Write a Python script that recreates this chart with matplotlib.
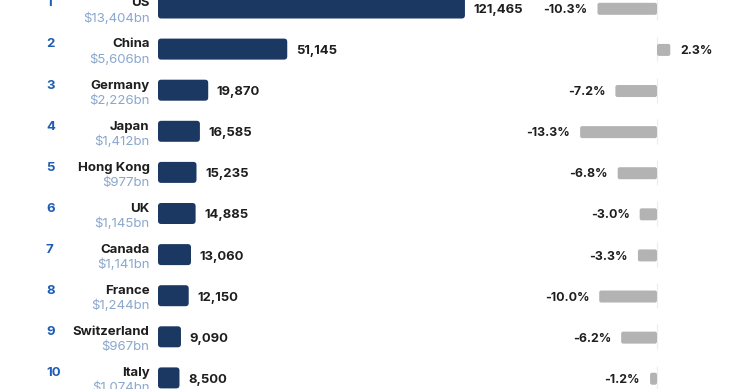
import matplotlib.pyplot as plt
from matplotlib.patches import FancyBboxPatch
from matplotlib.transforms import blended_transform_factory

plt.rcParams['font.family'] = ['Inter', 'DejaVu Sans']

ranks = ['1', '2', '3', '4', '5', '6', '7', '8', '9', '10']
countries = ['US', 'China', 'Germany', 'Japan', 'Hong Kong', 'UK', 'Canada',
             'France', 'Switzerland', 'Italy']
gdp_labels = ['$13,404bn', '$5,606bn', '$2,226bn', '$1,412bn', '$977bn',
              '$1,145bn', '$1,141bn', '$1,244bn', '$967bn', '$1,074bn']
values = [121465, 51145, 19870, 16585, 15235, 14885, 13060, 12150, 9090, 8500]
changes = [-10.3, 2.3, -7.2, -13.3, -6.8, -3.0, -3.3, -10.0, -6.2, -1.2]

NAVY = '#1b3862'
GREY = '#b3b3b3'
RANK = '#1f5cb4'
GDP = '#8aa7cd'
TXT = '#1e1e1e'

W, H = 740, 389
fig = plt.figure(figsize=(W / 100, H / 100), dpi=100)

# row geometry in pixels
row_gap = 41.1
first_row = 8.0
bar_h = 21 / row_gap
grey_h = 12 / row_gap

ylim = ((H - first_row) / row_gap, -first_row / row_gap)

# main bars: zero at x=158px, 0.002527 px per unit
px_main = 0.002527
ax = fig.add_axes([0, 0, 1, 1])
ax.set_xlim(-158 / px_main, (W - 158) / px_main)
ax.set_ylim(*ylim)
ax.axis('off')

# change bars: zero at x=657px, 5.78 px per percent
px_chg = 5.78
ax2 = fig.add_axes([0, 0, 1, 1])
ax2.set_xlim(-657 / px_chg, (W - 657) / px_chg)
ax2.set_ylim(*ylim)
ax2.axis('off')

r_px = 3.2
for i, v in enumerate(values):
    rx = r_px / px_main
    ry = r_px / row_gap
    p = FancyBboxPatch((0, i - bar_h / 2), v, bar_h,
                       boxstyle='round,pad=0,rounding_size=%f' % rx,
                       mutation_aspect=ry / rx, fc=NAVY, ec='none')
    ax.add_patch(p)
    ax.annotate(f'{v:,}', (v, i + 0.12), xytext=(6.2, 0), textcoords='offset points',
                ha='left', va='baseline', fontsize=9.4, fontweight='bold', color=TXT)

for i, c in enumerate(changes):
    ax2.vlines(0, i - 0.3, i + 0.3, color='#ececec', lw=0.8, zorder=0)
    rx = 2.0 / px_chg
    ry = 2.0 / row_gap
    x0 = min(c, 0)
    p = FancyBboxPatch((x0, i - grey_h / 2 + 0.02), abs(c), grey_h,
                       boxstyle='round,pad=0,rounding_size=%f' % rx,
                       mutation_aspect=ry / rx, fc=GREY, ec='none')
    ax2.add_patch(p)
    lab = f'{c:.1f}%'
    if c < 0:
        ax2.annotate(lab, (c, i + 0.12), xytext=(-7.2, 0), textcoords='offset points',
                     ha='right', va='baseline', fontsize=8.9, fontweight='bold', color=TXT)
    else:
        ax2.annotate(lab, (c, i + 0.12), xytext=(7.2, 0), textcoords='offset points',
                     ha='left', va='baseline', fontsize=8.9, fontweight='bold', color=TXT)

tr = blended_transform_factory(fig.transFigure, ax.transData)
for i in range(len(countries)):
    ax.text(46 / W, i - 0.04, ranks[i], transform=tr, ha='left', va='baseline',
            fontsize=9.5, fontweight='bold', color=RANK)
    ax.text(149.5 / W, i - 0.04, countries[i], transform=tr, ha='right', va='baseline',
            fontsize=9.5, fontweight='bold', color=TXT)
    ax.text(149.5 / W, i + 0.33, gdp_labels[i], transform=tr, ha='right', va='baseline',
            fontsize=9.5, color=GDP)

fig.savefig('out.png', dpi=100)
